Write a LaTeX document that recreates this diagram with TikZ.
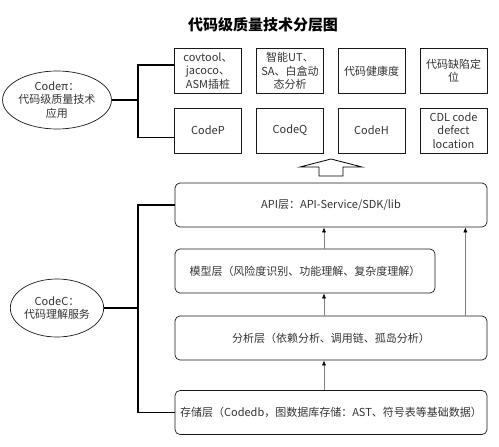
\documentclass[tikz,border=0pt]{standalone}
\usepackage{fontspec}
\setmainfont{Noto Sans CJK SC}
\usetikzlibrary{shapes}
\usetikzlibrary{arrows.meta}
\usetikzlibrary{positioning}

\begin{document}
\begin{tikzpicture}[x=1pt,y=-1pt,>={Latex[length=5pt,width=4pt,color=black]},font=\fontsize{11}{13.5}\selectfont,
  app node/.style={rectangle,draw=black!90,line width=0.7pt,text=black!80,align=center,inner sep=1pt,minimum width=67pt,minimum height=45pt},
  layer node/.style={rectangle,rounded corners=5pt,draw=black!90,line width=0.7pt,text=black!80,minimum height=44pt},
  role node/.style={ellipse,draw=black!90,line width=0.7pt,text=black!80,align=center,inner sep=0pt,minimum width=88pt,minimum height=58pt},
  bracket/.style={line width=1.4pt},
  flow/.style={->,draw=black!50,line width=0.6pt}]

	      \useasboundingbox (0,0) rectangle (499,447);

	      \node[font=\fontsize{15}{18}\selectfont\bfseries] at (263,25) (title) {代码级质量技术分层图};

	      \node[app node] at (208,71) (b1) {covtool、\\jacoco、\\ASM插桩};
	      \node[app node] at (290,71) (b2) {智能UT、\\SA、白盒动\\态分析};
	      \node[app node] at (371.5,71) (b3) {代码健康度};
	      \node[app node] at (453.5,71) (b4) {代码缺陷定\\位};
	      \node[app node] at (208,130.5) (b5) {CodeP};
	      \node[app node] at (290,130.5) (b6) {CodeQ};
	      \node[app node] at (371.5,130.5) (b7) {CodeH};
	      \node[app node] at (453.5,130.5) (b8) {CDL code\\defect\\location};

	      \node[role node] at (57,100) (pi) {Codeπ：\\代码级质量技术\\应用};
	      \node[role node] at (57,308) (cc) {CodeC：\\代码理解服务};

	      \node[layer node,minimum width=312pt] at (331,205) (api) {API层：API-Service/SDK/lib};
	      \node[layer node,minimum width=260pt] at (305,271) (mod) {模型层（风险度识别、功能理解、复杂度理解）};
	      \node[layer node,minimum width=312pt] at (331,338) (ana) {分析层（依赖分析、调用链、孤岛分析）};
	      \node[layer node,minimum width=312pt] at (331,412.5) (store) {存储层（Codedb，图数据库存储：AST、符号表等基础数据）};

	      \coordinate (pj) at (138,100);
	      \coordinate (cj) at (138,308);
	      \coordinate (col) at (324,0);

	      % brackets
	      \draw[bracket] (pi.east) -- (pj);
	      \draw[bracket] ([yshift=6pt]b1.west) -| (pj) |- ([yshift=-7pt]b5.west);
	      \draw[bracket] (cc.east) -- (cj);
	      \draw[bracket] (api.west) -| (cj) |- (store.west);

	      % layer arrows
	      \draw[flow] (mod.north -| col) -- (api.south -| col);
	      \draw[flow] (ana.north -| col) -- (mod.south -| col);
	      \draw[flow] (store.north -| col) -- (ana.south -| col);
	      \draw[flow] ([xshift=-22pt]ana.north east) -- ([xshift=-22pt]api.south east);

	      % hollow arrow
	      \draw[draw=black,line width=0.8pt,fill=white] (300,167) -- (331,159) -- (362,167) -- (343,167) -- (343,176) -- (319,176) -- (319,167) -- cycle;

	    \end{tikzpicture}
\end{document}
